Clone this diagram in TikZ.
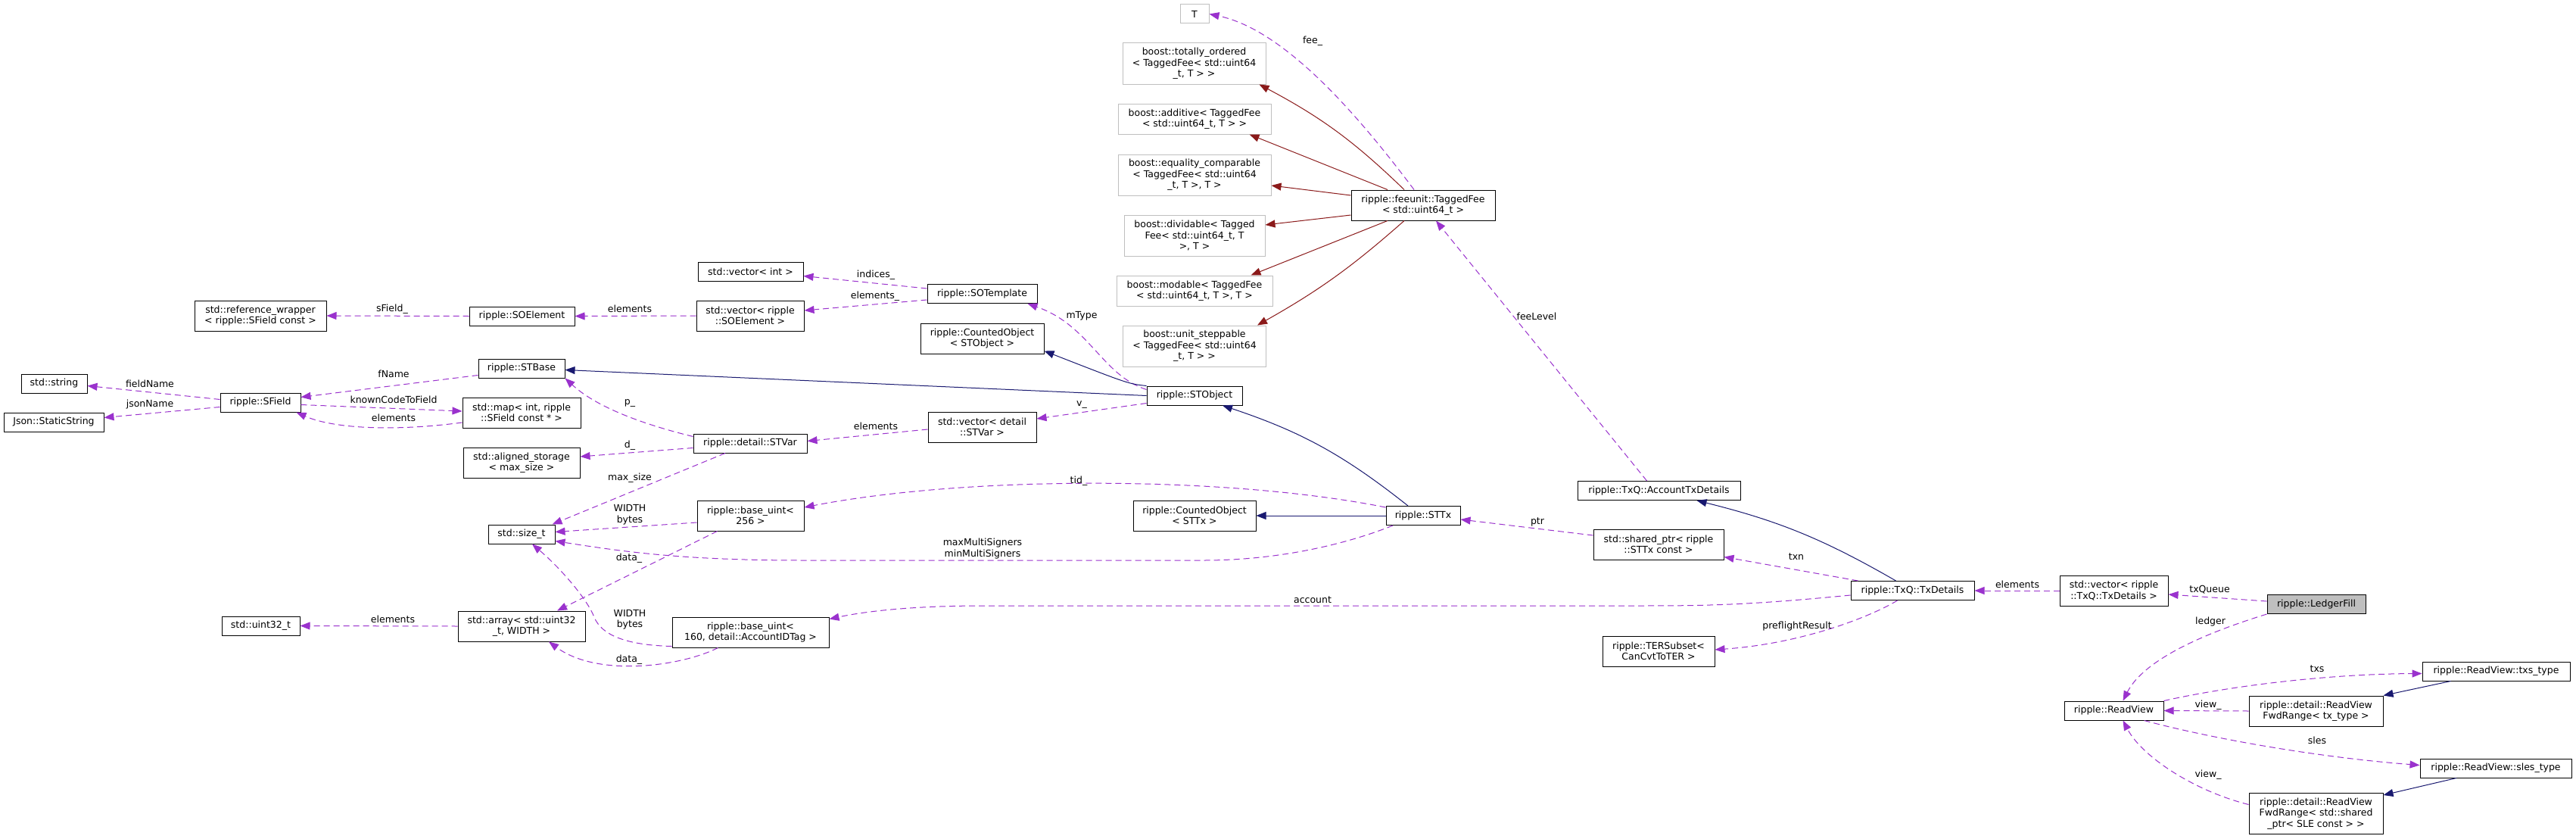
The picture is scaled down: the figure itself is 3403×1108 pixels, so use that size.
\documentclass[tikz,border=0pt]{standalone}
\usepackage{fontspec}
\setmainfont{DejaVu Sans}
\definecolor{doxPurple}{HTML}{9A32CD}
\definecolor{doxNavy}{HTML}{191970}
\definecolor{doxRed}{HTML}{8B1A1A}
\definecolor{doxGray}{HTML}{BFBFBF}
\usetikzlibrary{
	arrows.meta
}
\tikzset{
	clase/.style={
		draw=black,
		fill=white,
		line width=1pt,
		align=center,
		inner sep=0pt,
		font=\fontsize{12.5}{14.5}\selectfont
	},
	claseExt/.style={
		clase,
		draw=doxGray
	},
	claseFoco/.style={
		clase,
		fill=doxGray
	},
	linea1/.style={minimum height=25pt},
	linea2/.style={minimum height=40pt},
	linea3/.style={minimum height=54pt},
	etiqueta/.style={
		align=center,
		inner sep=0pt,
		font=\fontsize{12.5}{14.5}\selectfont
	},
	uso/.style={
		-{Triangle[length=13pt,width=10pt]},
		line width=1pt,
		dash pattern=on 8pt off 5pt,
		doxPurple
	},
	herencia/.style={
		-{Triangle[length=13pt,width=10pt]},
		line width=1pt,
		doxNavy
	},
	plantilla/.style={
		-{Triangle[length=13pt,width=10pt]},
		line width=1pt,
		doxRed
	}
}

\begin{document}
\begin{tikzpicture}[x=1pt, y=-1pt]
		\fill[white] (0,0) rectangle (3403,1108);
		\useasboundingbox (0,0) rectangle (3403,1108);
		% boost y TaggedFee
		\node[claseExt, linea1, minimum width=38pt] (tparam) at (1578,18.5) {T};
		\node[claseExt, linea3, minimum width=189pt] (totord) at (1577.5,84) {boost::totally\_ordered\\< TaggedFee< std::uint64\\\_t, T > >};
		\node[claseExt, linea2, minimum width=202pt] (aditivo) at (1578,157) {boost::additive< TaggedFee\\< std::uint64\_t, T > >};
		\node[claseExt, linea3, minimum width=202pt] (igualdad) at (1578,231) {boost::equality\_comparable\\< TaggedFee< std::uint64\\\_t, T >, T >};
		\node[claseExt, linea3, minimum width=186pt] (divisible) at (1578,311) {boost::dividable< Tagged\\Fee< std::uint64\_t, T\\>, T >};
		\node[claseExt, linea2, minimum width=206pt] (modulo) at (1578,384) {boost::modable< TaggedFee\\< std::uint64\_t, T >, T >};
		\node[claseExt, linea3, minimum width=189pt] (unitario) at (1578,457) {boost::unit\_steppable\\< TaggedFee< std::uint64\\\_t, T > >};
		\node[clase, linea2, minimum width=190pt] (taggedfee) at (1880,271) {ripple::feeunit::TaggedFee\\< std::uint64\_t >};
		% SOTemplate y STObject
		\node[clase, linea1, minimum width=139pt] (vecint) at (991.5,358.5) {std::vector< int >};
		\node[clase, linea1, minimum width=145pt] (sotemplate) at (1297.5,388) {ripple::SOTemplate};
		\node[clase, linea2, minimum width=174pt] (refwrap) at (344,417) {std::reference\_wrapper\\< ripple::SField const >};
		\node[clase, linea1, minimum width=139pt] (soelement) at (689.5,417.5) {ripple::SOElement};
		\node[clase, linea2, minimum width=142pt] (vecsoel) at (991,417) {std::vector< ripple\\::SOElement >};
		\node[clase, linea2, minimum width=163pt] (cobjst) at (1297.5,447) {ripple::CountedObject\\< STObject >};
		\node[clase, linea1, minimum width=114pt] (stbase) at (689,486.5) {ripple::STBase};
		\node[clase, linea1, minimum width=87pt] (stdstring) at (71.5,506.5) {std::string};
		\node[clase, linea1, minimum width=106pt] (sfield) at (344,531.5) {ripple::SField};
		\node[clase, linea1, minimum width=132pt] (json) at (71,557.5) {Json::StaticString};
		\node[clase, linea2, minimum width=156pt] (stdmap) at (689,545) {std::map< int, ripple\\::SField const * >};
		\node[clase, linea1, minimum width=126pt] (stobject) at (1578,522.5) {ripple::STObject};
		\node[clase, linea2, minimum width=143pt] (vecstvar) at (1297.5,564) {std::vector< detail\\::STVar >};
		\node[clase, linea1, minimum width=150pt] (stvar) at (991,585.5) {ripple::detail::STVar};
		\node[clase, linea2, minimum width=154pt] (aligned) at (689,611) {std::aligned\_storage\\< max\_size >};
		% STTx y base_uint
		\node[clase, linea2, minimum width=141pt] (b256) at (991.5,681) {ripple::base\_uint<\\256 >};
		\node[clase, linea2, minimum width=162pt] (cobjtx) at (1578,681) {ripple::CountedObject\\< STTx >};
		\node[clase, linea1, minimum width=98pt] (sttx) at (1880,681) {ripple::STTx};
		\node[clase, linea1, minimum width=88pt] (sizet) at (689,705.5) {std::size\_t};
		\node[clase, linea2, minimum width=168pt] (stdarray) at (689,827) {std::array< std::uint32\\\_t, WIDTH >};
		\node[clase, linea1, minimum width=103pt] (uint32) at (344.5,826.5) {std::uint32\_t};
		\node[clase, linea2, minimum width=207pt] (b160) at (991.5,835) {ripple::base\_uint<\\160, detail::AccountIDTag >};
		% TxQ
		\node[clase, linea1, minimum width=215pt] (acctx) at (2191.5,648) {ripple::TxQ::AccountTxDetails};
		\node[clase, linea2, minimum width=172pt] (sharedptr) at (2191,719) {std::shared\_ptr< ripple\\::STTx const >};
		\node[clase, linea1, minimum width=163pt] (txdet) at (2526.5,780) {ripple::TxQ::TxDetails};
		\node[clase, linea2, minimum width=148pt] (tersub) at (2191,860) {ripple::TERSubset<\\CanCvtToTER >};
		\node[clase, linea2, minimum width=143pt] (vectx) at (2792.5,780) {std::vector< ripple\\::TxQ::TxDetails >};
		\node[claseFoco, linea1, minimum width=130pt] (ledgerfill) at (3060,798) {ripple::LedgerFill};
		% ReadView
		\node[clase, linea1, minimum width=131pt] (readview) at (2792.5,938.5) {ripple::ReadView};
		\node[clase, linea1, minimum width=195pt] (txs) at (3297.5,886.5) {ripple::ReadView::txs\_type};
		\node[clase, linea2, minimum width=177pt] (fwdtx) at (3059.5,939) {ripple::detail::ReadView\\FwdRange< tx\_type >};
		\node[clase, linea1, minimum width=200pt] (sles) at (3297,1014.5) {ripple::ReadView::sles\_type};
		\node[clase, linea3, minimum width=177pt] (fwdsh) at (3059.5,1074.5) {ripple::detail::ReadView\\FwdRange< std::shared\\\_ptr< SLE const > >};

		% herencia de plantillas
		\draw[plantilla] ([xshift=-25pt]taggedfee.north) to[bend right=8] ([xshift=-9pt]totord.south east);
		\draw[plantilla] ([xshift=-47pt]taggedfee.north) -- ([xshift=-29pt]aditivo.south east);
		\draw[plantilla] ([yshift=13pt]taggedfee.west) -- ([yshift=-14pt]igualdad.east);
		\draw[plantilla] ([yshift=-13pt]taggedfee.west) -- ([yshift=14pt]divisible.east);
		\draw[plantilla] ([xshift=-47pt]taggedfee.south) -- ([xshift=-29pt]modulo.north east);
		\draw[plantilla] ([xshift=-25pt]taggedfee.south) to[bend left=6] ([xshift=-12pt]unitario.north east);
		\draw[uso] ([xshift=-12pt]taggedfee.north) .. controls (1800,160) and (1700,40) .. (tparam.east);
		\node[etiqueta] (etqFee) at (1734,54) {fee\_};
		\draw[uso] ([xshift=-16pt]acctx.north) -- ([xshift=17pt]taggedfee.south);
		\node[etiqueta] (etqFeeLevel) at (2030,418) {feeLevel};

		% SOTemplate
		\draw[uso] ([yshift=7pt]sotemplate.west) -- ([yshift=-6pt]vecint.east);
		\node[etiqueta] (etqIndices) at (1157,363) {indices\_};
		\draw[uso] ([yshift=-8pt]sotemplate.west) -- ([yshift=7pt]vecsoel.east);
		\node[etiqueta] (etqElems1) at (1156,391) {elements\_};
		\draw[uso] (vecsoel.west) -- (soelement.east);
		\node[etiqueta] (etqElems2) at (832,408) {elements};
		\draw[uso] (soelement.west) -- (refwrap.east);
		\node[etiqueta] (etqSField) at (518,408) {sField\_};

		% STObject
		\draw[uso] ([yshift=8pt]stobject.west) .. controls (1455,495) and (1440,430) .. ([xshift=-13pt]sotemplate.south east);
		\node[etiqueta] (etqMType) at (1429,417) {mType};
		\draw[herencia] (stobject.north west) .. controls (1491,507) .. ([yshift=4pt]cobjst.south east);
		\draw[herencia] (stobject.west) -- ([yshift=-2pt]stbase.east);
		\draw[uso] ([yshift=-10pt]stobject.west) -- ([yshift=11pt]vecstvar.east);
		\node[etiqueta] (etqV) at (1429,535) {v\_};
		\draw[uso] ([yshift=-3pt]vecstvar.west) -- ([yshift=3pt]stvar.east);
		\node[etiqueta] (etqElems3) at (1157,563) {elements};

		% STVar
		\draw[uso] ([yshift=-4pt]stvar.north west) .. controls (840,558) and (785,535) .. (stbase.south east);
		\node[etiqueta] (etqP) at (832,532) {p\_};
		\draw[uso] ([yshift=-6pt]stvar.west) -- ([yshift=8pt]aligned.east);
		\node[etiqueta] (etqD) at (832,588) {d\_};
		\draw[uso] ([xshift=-33pt]stvar.south) -- ([xshift=-4pt]sizet.north east);
		\node[etiqueta] (etqMaxSize) at (832,631) {max\_size};

		% SField
		\draw[uso] ([yshift=-9pt]stbase.west) -- ([yshift=7pt]sfield.east);
		\node[etiqueta] (etqFName) at (520,494) {fName};
		\draw[uso] ([yshift=4pt]sfield.west) -- ([yshift=-3pt]stdstring.east);
		\node[etiqueta] (etqFieldName) at (198,507) {fieldName};
		\draw[uso] ([yshift=-6pt]sfield.west) -- ([yshift=6pt]json.east);
		\node[etiqueta] (etqJsonName) at (198,534) {jsonName};
		\draw[uso] ([yshift=-3pt]sfield.east) -- ([yshift=2pt]stdmap.west);
		\node[etiqueta] (etqKnown) at (520,528) {knownCodeToField};
		\draw[uso] ([yshift=-13pt]stdmap.west) .. controls (520,570) and (440,566) .. ([xshift=-6pt]sfield.south east);
		\node[etiqueta] (etqElems4) at (520,552) {elements};

		% base_uint
		\draw[uso] ([yshift=-9pt]b256.west) -- ([yshift=3pt]sizet.east);
		\node[etiqueta] (etqWidth1) at (832,679.5) {WIDTH\\bytes};
		\draw[uso] ([xshift=27pt]b256.south west) -- ([xshift=47pt]stdarray.north);
		\node[etiqueta] (etqData1) at (831,737) {data\_};
		\draw[uso] (stdarray.west) -- (uint32.east);
		\node[etiqueta] (etqElems5) at (519,818) {elements};
		\draw[uso] ([yshift=2pt]b160.south west) .. controls (830,852) and (795,840) .. (785,815) .. controls (775,790) and (740,750) .. ([xshift=14pt]sizet.south);
		\node[etiqueta] (etqWidth2) at (832,818) {WIDTH\\bytes};
		\draw[uso] ([xshift=-43pt]b160.south) .. controls (900,880) and (790,895) .. ([xshift=36pt]stdarray.south);
		\node[etiqueta] (etqData2) at (831,871) {data\_};

		% STTx
		\draw[uso] ([yshift=-2pt]sttx.north west) .. controls (1620,628) and (1280,628) .. ([yshift=11pt]b256.east);
		\node[etiqueta] (etqTid) at (1425,635) {tid\_};
		\draw[uso] ([xshift=-40pt]sttx.south) .. controls (1770,722) and (1680,740) .. (1590,740) -- (1060,740) .. controls (900,740) and (820,728) .. ([yshift=-9pt]sizet.east);
		\node[etiqueta] (etqSigners) at (1298,724.5) {maxMultiSigners\\minMultiSigners};
		\draw[herencia] (sttx.west) -- (cobjtx.east);
		\draw[herencia] ([xshift=-20pt]sttx.north) to[bend right=10] ([xshift=37pt]stobject.south);

		% TxQ
		\draw[uso] ([yshift=12pt]sharedptr.west) -- ([yshift=-5pt]sttx.east);
		\node[etiqueta] (etqPtr) at (2031,689) {ptr};
		\draw[uso] ([xshift=-72pt]txdet.north) -- ([yshift=4pt]sharedptr.south east);
		\node[etiqueta] (etqTxn) at (2373,735) {txn};
		\draw[herencia] ([xshift=-22pt]txdet.north) to[bend right=8] ([xshift=50pt]acctx.south);
		\draw[uso] ([yshift=-6pt]txdet.west) .. controls (2300,800) and (2250,800) .. (2150,800) -- (1300,800) .. controls (1200,800) and (1140,808) .. ([yshift=-3pt]b160.north east);
		\node[etiqueta] (etqAccount) at (1734,792) {account};
		\draw[uso] ([xshift=-20pt]txdet.south) .. controls (2470,815) and (2380,850) .. ([yshift=2pt]tersub.east);
		\node[etiqueta] (etqPreflight) at (2374,827) {preflightResult};
		\draw[uso] (vectx.west) -- (txdet.east);
		\node[etiqueta] (etqElems6) at (2665,772) {elements};

		% LedgerFill y ReadView
		\draw[uso] ([yshift=4pt]ledgerfill.west) -- ([yshift=-5pt]vectx.east);
		\node[etiqueta] (etqTxQueue) at (2919,779) {txQueue};
		\draw[uso] (ledgerfill.south west) .. controls (2900,840) and (2830,875) .. ([xshift=12pt]readview.north);
		\node[etiqueta] (etqLedger) at (2920,821) {ledger};
		\draw[uso] (readview.north east) .. controls (2950,905) and (3080,890) .. ([yshift=-3pt]txs.west);
		\node[etiqueta] (etqTxs) at (3061,883) {txs};
		\draw[uso] (fwdtx.west) -- (readview.east);
		\node[etiqueta] (etqView1) at (2917,931) {view\_};
		\draw[herencia] ([xshift=-60pt]txs.south) -- (fwdtx.north east);
		\draw[uso] ([xshift=40pt]readview.south) .. controls (2920,975) and (3060,1000) .. ([yshift=4pt]sles.west);
		\node[etiqueta] (etqSles) at (3061,978) {sles};
		\draw[uso] ([yshift=12pt]fwdsh.west) .. controls (2900,1045) and (2830,1000) .. ([xshift=12pt]readview.south);
		\node[etiqueta] (etqView2) at (2917,1023) {view\_};
		\draw[herencia] ([xshift=-52pt]sles.south) -- ([yshift=-3pt]fwdsh.north east);
	\end{tikzpicture}
\end{document}
